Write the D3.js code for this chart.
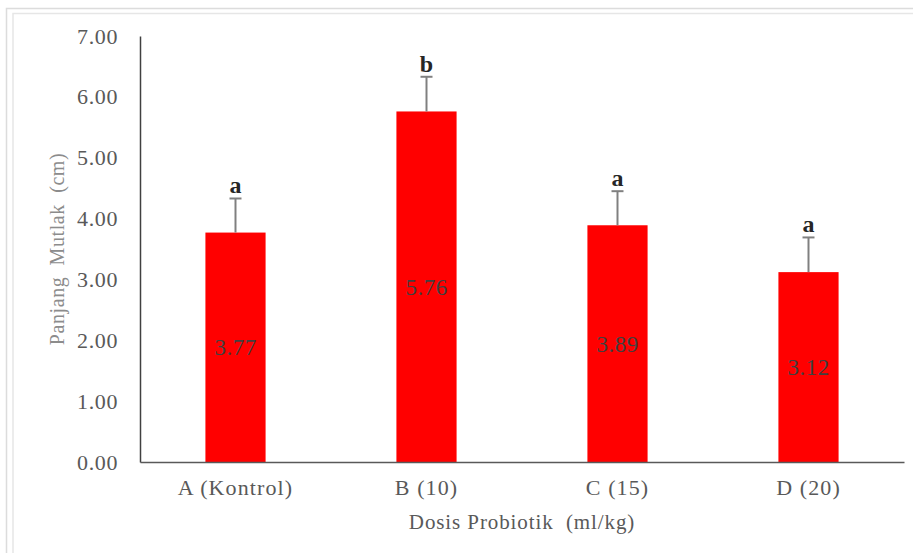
<!DOCTYPE html>
<html>
<head>
<meta charset="utf-8">
<script src="https://cdn.jsdelivr.net/npm/d3@7"></script>
<style>
  body { margin: 0; background: #fff; }
  svg { display: block; font-family: "Liberation Serif", "Times New Roman", serif; }
</style>
</head>
<body>
<script>
const categories = ['A (Kontrol)', 'B (10)', 'C (15)', 'D (20)'];
const values = [3.77, 5.76, 3.89, 3.12];
const errors = [0.56, 0.57, 0.56, 0.57];
const letters = ['a', 'b', 'a', 'a'];
const yTicks = [0, 1, 2, 3, 4, 5, 6, 7];

const W = 913, H = 553;
const margin = { top: 36, right: 9, bottom: 91, left: 140 };
const width = W - margin.left - margin.right;
const height = H - margin.top - margin.bottom;

const svg = d3.select('body')
  .append('svg')
  .attr('width', W)
  .attr('height', H);

// frame lines (run off the right/bottom edge like the source)
svg.append('rect')
  .attr('x', 6.5).attr('y', 8.5)
  .attr('width', W + 20).attr('height', H + 20)
  .attr('fill', 'none').attr('stroke', '#dcdcdc').attr('stroke-width', 1.5);
svg.append('rect')
  .attr('x', 13).attr('y', 13.5)
  .attr('width', W + 20).attr('height', H + 20)
  .attr('fill', 'none').attr('stroke', '#e6e6e6').attr('stroke-width', 1.5);

const g = svg.append('g')
  .attr('transform', `translate(${margin.left},${margin.top})`);

const x = d3.scaleBand()
  .domain(categories)
  .range([0, width])
  .paddingInner(0.685)
  .paddingOuter(0.3425);

const y = d3.scaleLinear()
  .domain([0, 7])
  .range([height, 0]);

// bars
g.selectAll('.bar')
  .data(values)
  .enter()
  .append('rect')
  .attr('class', 'bar')
  .attr('x', (d, i) => x(categories[i]))
  .attr('y', d => y(d))
  .attr('width', x.bandwidth())
  .attr('height', d => height - y(d))
  .attr('fill', '#ff0000');

// error bars
const cx = i => x(categories[i]) + x.bandwidth() / 2;
g.selectAll('.err')
  .data(values)
  .enter()
  .append('line')
  .attr('x1', (d, i) => cx(i))
  .attr('x2', (d, i) => cx(i))
  .attr('y1', d => y(d))
  .attr('y2', (d, i) => y(d + errors[i]))
  .attr('stroke', '#808080')
  .attr('stroke-width', 2);
g.selectAll('.cap')
  .data(values)
  .enter()
  .append('line')
  .attr('x1', (d, i) => cx(i) - 6)
  .attr('x2', (d, i) => cx(i) + 6)
  .attr('y1', (d, i) => y(d + errors[i]))
  .attr('y2', (d, i) => y(d + errors[i]))
  .attr('stroke', '#808080')
  .attr('stroke-width', 2);

// significance letters
g.selectAll('.sig')
  .data(values)
  .enter()
  .append('text')
  .attr('x', (d, i) => cx(i))
  .attr('y', (d, i) => y(d + errors[i]) - 5)
  .attr('text-anchor', 'middle')
  .style('font-size', '24px')
  .style('font-weight', 'bold')
  .style('fill', '#262626')
  .text((d, i) => letters[i]);

// value labels in bar centres
g.selectAll('.val')
  .data(values)
  .enter()
  .append('text')
  .attr('x', (d, i) => cx(i))
  .attr('y', d => (y(d) + height) / 2)
  .attr('dy', '0.35em')
  .attr('text-anchor', 'middle')
  .style('font-size', '23px')
  .style('letter-spacing', '0.5px')
  .style('fill', '#404040')
  .text(d => d.toFixed(2));

// axes
const yAxis = g.append('g')
  .attr('font-family', '"Liberation Serif", serif')
  .call(d3.axisLeft(y).tickValues(yTicks).tickSize(0).tickPadding(22).tickFormat(d3.format('.2f')));
yAxis.attr('font-family', '"Liberation Serif", serif');
yAxis.select('.domain').attr('stroke', '#404040').attr('stroke-width', 1.5);
yAxis.selectAll('text')
  .style('font-size', '22px')
  .style('letter-spacing', '0.6px')
  .style('fill', '#595959');

const xAxis = g.append('g')
  .attr('transform', `translate(0,${height})`)
  .call(d3.axisBottom(x).tickSize(0).tickPadding(17));
xAxis.attr('font-family', '"Liberation Serif", serif');
xAxis.select('.domain').attr('stroke', '#595959').attr('stroke-width', 1.5);
xAxis.selectAll('text')
  .style('font-size', '22px')
  .style('letter-spacing', '1.1px')
  .style('fill', '#595959');

// axis titles
svg.append('text')
  .attr('x', 522)
  .attr('y', 522)
  .attr('dy', '0.35em')
  .attr('text-anchor', 'middle')
  .attr('xml:space', 'preserve')
  .style('font-size', '21px')
  .style('letter-spacing', '0.9px')
  .style('fill', '#595959')
  .text('Dosis Probiotik  (ml/kg)');

svg.append('text')
  .attr('transform', 'translate(57,249) rotate(-90)')
  .attr('dy', '0.35em')
  .attr('text-anchor', 'middle')
  .attr('xml:space', 'preserve')
  .style('font-size', '20px')
  .style('letter-spacing', '0.6px')
  .style('fill', '#8c8c8c')
  .text('Panjang  Mutlak  (cm)');
</script>
</body>
</html>
